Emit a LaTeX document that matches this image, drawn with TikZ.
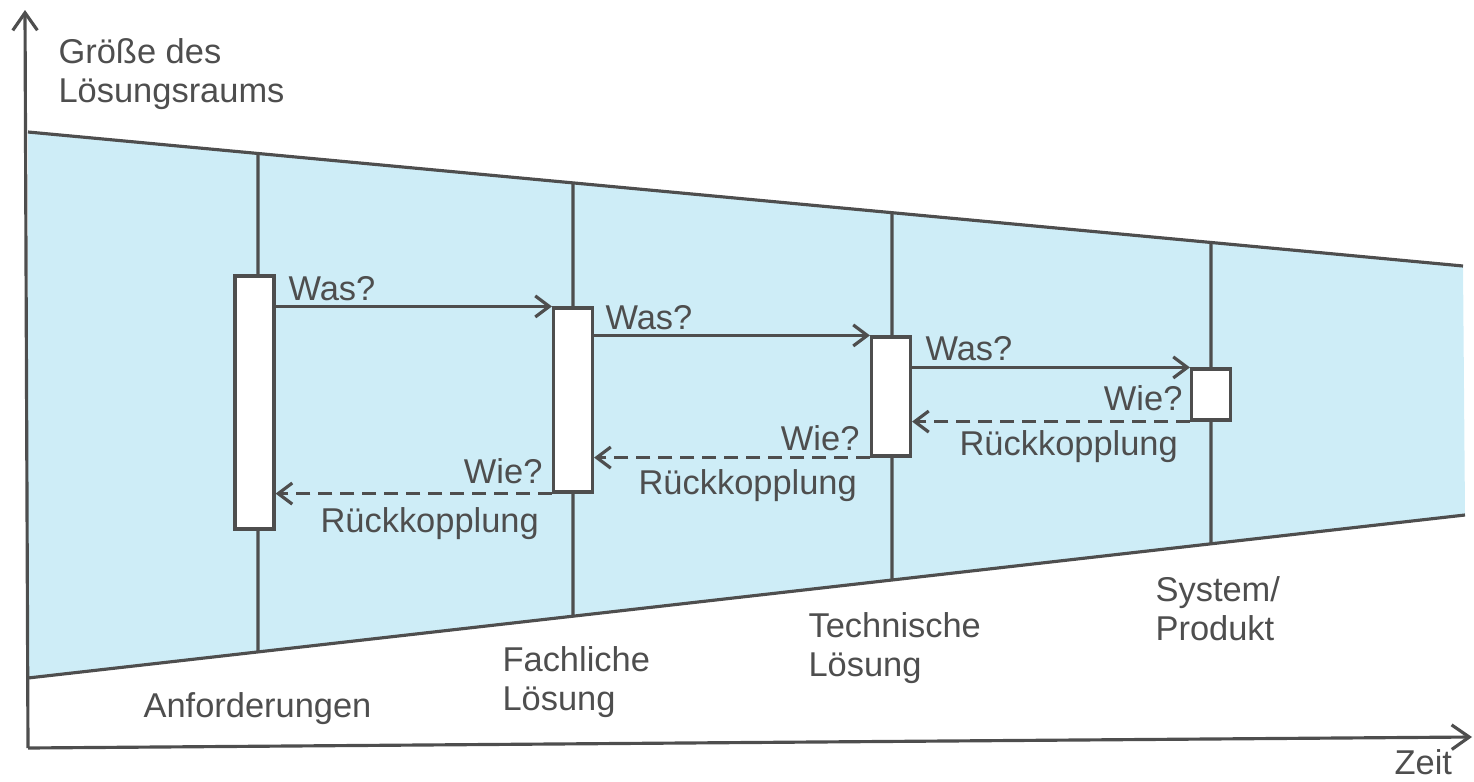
\documentclass[tikz,border=0pt]{standalone}
\usepackage{fontspec}
\setmainfont{Liberation Sans}
\usetikzlibrary{arrows.meta,calc,positioning}

\definecolor{raumblau}{RGB}{206,237,247}
\definecolor{grau}{RGB}{78,78,78}

\begin{document}
\begin{tikzpicture}[x=0.02cm, y=-0.02cm, line width=1.8pt, color=grau,
   font=\fontsize{19.6}{22}\selectfont,
   kasten/.style={draw, fill=white, inner sep=0pt, minimum width=0.78cm},
   txt/.style={inner sep=0pt, anchor=base west},
   txtr/.style={inner sep=0pt, anchor=base east},
   pfeil/.style={-{Straight Barb[length=8pt,width=12pt]}},
   rueck/.style={pfeil, dash pattern=on 8pt off 4.5pt},
   achse/.style={-{Straight Barb[length=10pt,width=14pt]}}]
   \useasboundingbox (0,0) rectangle (1474,781);

   % Loesungsraum
   \coordinate (ol) at (28,132);
   \coordinate (or) at (1463,266);
   \coordinate (ur) at (1465,515);
   \coordinate (ul) at (28,678);
   \fill[raumblau] (ol) -- (or) -- (ur) -- (ul) -- cycle;
   \draw (ol) -- (or) (ul) -- (ur);
   \foreach \x in {258,573,892,1211}
      \draw ($(ol)!{(\x-28)/1435}!(or)$) -- ($(ul)!{(\x-28)/1437}!(ur)$);

   % Achsen
   \coordinate (nullp) at (28,748);
   \coordinate (yende) at (25,10);
   \coordinate (xende) at (1472,737);
   \draw[achse] (nullp) -- (yende);
   \draw[achse] (nullp) -- (xende);

   \node[kasten, minimum height=5.06cm] (anf)  at (254.5,402.5) {};
   \node[kasten, minimum height=3.68cm] (fach) at (573,400)     {};
   \node[kasten, minimum height=2.38cm] (tech) at (891,396.5)   {};
   \node[kasten, minimum height=1.02cm] (sys)  at (1211,394.5)  {};

   \draw[pfeil] (anf.east |- fach.north)  -- (fach.north west);
   \draw[pfeil] (fach.east |- tech.north) -- (tech.north west);
   \draw[pfeil] (tech.east |- sys.north)  -- (sys.north west);
   \draw[rueck] (fach.south west) -- (fach.south west -| anf.east);
   \draw[rueck] (tech.south west) -- (tech.south west -| fach.east);
   \draw[rueck] (sys.south west)  -- (sys.south west -| tech.east);

   \node[txt]  (was1) at (287,300)  {Was?};
   \node[txt]  (was2) at (604,329)  {Was?};
   \node[txt]  (was3) at (924,360)  {Was?};
   \node[txtr] (wie1) at (544,483)  {Wie?};
   \node[txtr] (wie2) at (861,450)  {Wie?};
   \node[txtr] (wie3) at (1184,410) {Wie?};
   \node[txt]  (rk1)  at (319,532)  {Rückkopplung};
   \node[txt]  (rk2)  at (637,494)  {Rückkopplung};
   \node[txt]  (rk3)  at (958,455)  {Rückkopplung};

   \node[txt] (anfl) at (142,717) {Anforderungen};
   \node[txt, align=left] (fachl) at (501,710)  {Fachliche\\Lösung};
   \node[txt, align=left] (techl) at (807,676)  {Technische\\Lösung};
   \node[txt, align=left] (sysl)  at (1154,640) {System/\\Produkt};
   \node[txt] (zeit) at (1393,774) {Zeit};
   \node[txt, align=left] (groesse) at (57,102) {Größe des\\Lösungsraums};
\end{tikzpicture}
\end{document}
